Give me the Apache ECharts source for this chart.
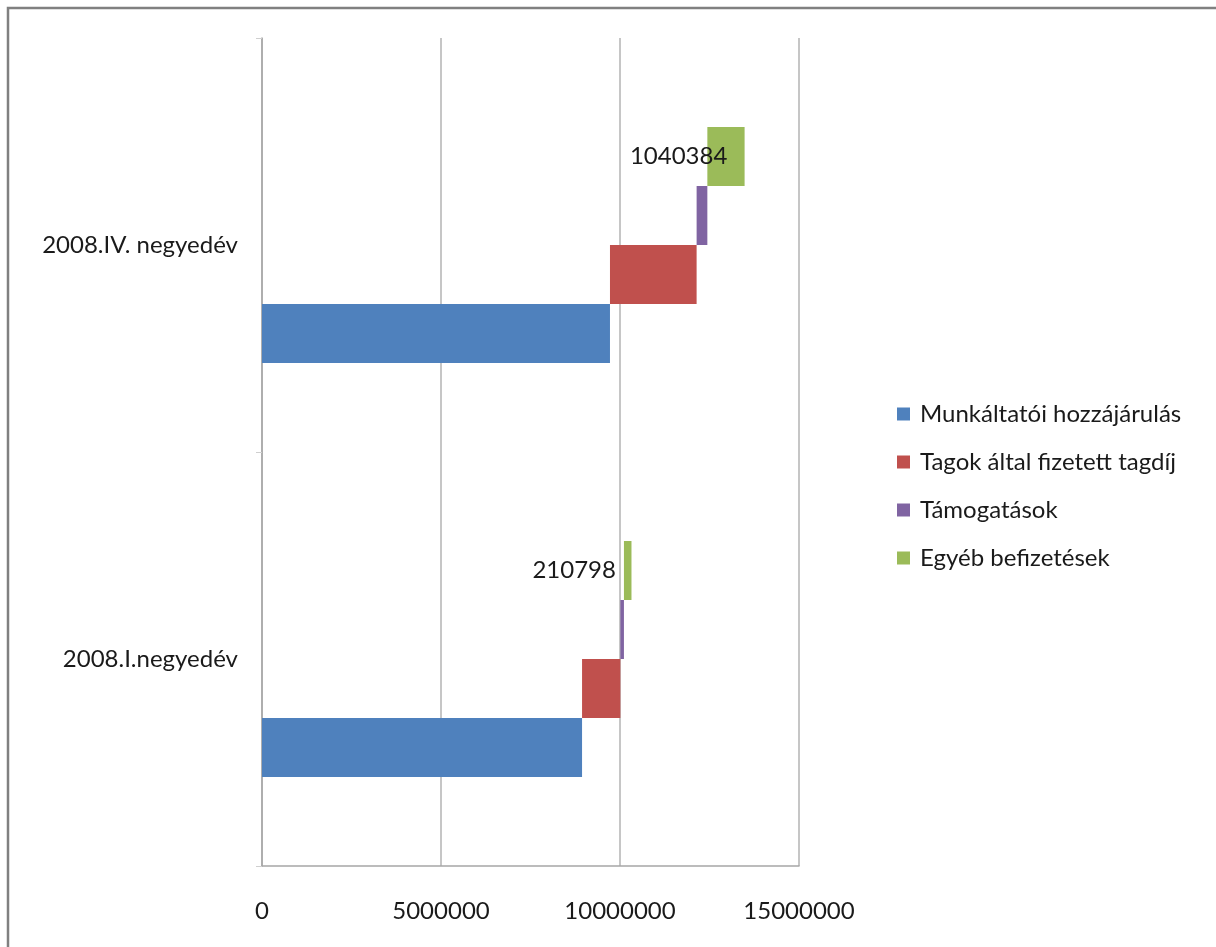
<!DOCTYPE html>
<html lang="hu" style="height: 100%">
<head>
  <meta charset="utf-8">
</head>
<body style="height: 100%; margin: 0; background: #fff">
  <div id="container" style="height: 100%"></div>

  <script type="text/javascript" src="https://fastly.jsdelivr.net/npm/echarts@6/dist/echarts.min.js"></script>
  <script type="text/javascript">
    var dom = document.getElementById('container');
    var myChart = echarts.init(dom, null, { renderer: 'canvas' });

// adatok (alulrol felfele a kategoriak)
var categories = ['2008.I.negyedév', '2008.IV. negyedév'];
var munkaltatoi = [8940000, 9720000];
var tagdij = [1070000, 2420000];
var tamogatas = [100000, 300000];
var egyeb = [210798, 1040384];
var names = ['Munkáltatói hozzájárulás', 'Tagok által fizetett tagdíj', 'Támogatások', 'Egyéb befizetések'];
var xMax = 15000000;
var xInterval = 5000000;

// lepcsos elrendezeshez: az egyes sorozatok kezdopontja
var base1 = munkaltatoi.map(function (v) { return v; });
var base2 = base1.map(function (v, i) { return v + tagdij[i]; });
var base3 = base2.map(function (v, i) { return v + tamogatas[i]; });

var font = 'Lato, "Liberation Sans", sans-serif';
var txt = '#1a1a1a';
var fs = 24;
var bw = 59;

function helper(stack, data) {
    return {
        name: '_' + stack,
        type: 'bar',
        stack: stack,
        silent: true,
        barWidth: bw,
        barGap: '0%',
        itemStyle: { color: 'transparent' },
        data: data
    };
}

var option = {
    backgroundColor: '#ffffff',
    animation: false,
    textStyle: { fontFamily: font },
    grid: {
        left: 262,
        right: 417,
        top: 38,
        bottom: 81
    },
    legend: {
        data: names,
        orient: 'vertical',
        left: 892,
        top: 397,
        icon: 'rect',
        itemWidth: 13,
        itemHeight: 13,
        itemGap: 24,
        textStyle: { fontSize: fs, lineHeight: 24, color: txt, fontFamily: font, padding: [0, 0, 0, 5] }
    },
    graphic: [{
        type: 'rect',
        shape: { x: 8, y: 8, width: 1300, height: 1000 },
        style: { fill: 'none', stroke: '#808080', lineWidth: 2.5 },
        silent: true
    }],
    xAxis: {
        type: 'value',
        min: 0,
        max: xMax,
        interval: xInterval,
        axisLine: { show: true, lineStyle: { color: '#a6a6a6', width: 1.5 } },
        axisTick: { show: false },
        splitLine: { show: true, lineStyle: { color: '#b3b3b3', width: 1.5 } },
        axisLabel: {
            margin: 33, fontSize: fs, color: txt, fontFamily: font,
            formatter: function (v) { return String(v); }
        }
    },
    yAxis: {
        type: 'category',
        data: categories,
        axisLine: { show: true, lineStyle: { color: '#a6a6a6', width: 1.5 } },
        axisTick: { show: true, length: 6, lineStyle: { color: '#cfcfcf' } },
        axisLabel: { margin: 24, fontSize: fs, color: txt, fontFamily: font }
    },
    // elso sorozat kerul felulre, ezert forditott sorrend
    series: [
        helper('s3', base3),
        {
            name: names[3],
            type: 'bar',
            stack: 's3',
            barWidth: bw,
            barGap: '0%',
            itemStyle: { color: '#9BBB59' },
            label: {
                show: true,
                position: 'left',
                distance: 5,
                fontSize: fs,
                color: txt,
                fontFamily: font
            },
            data: egyeb.map(function (v, i) {
                return { value: v, label: { offset: [i === 0 ? -3 : 25, 0] } };
            })
        },
        helper('s2', base2),
        {
            name: names[2],
            type: 'bar',
            stack: 's2',
            barWidth: bw,
            barGap: '0%',
            itemStyle: { color: '#8064A2' },
            data: tamogatas
        },
        helper('s1', base1),
        {
            name: names[1],
            type: 'bar',
            stack: 's1',
            barWidth: bw,
            barGap: '0%',
            itemStyle: { color: '#C0504D' },
            data: tagdij
        },
        {
            name: names[0],
            type: 'bar',
            stack: 's0',
            barWidth: bw,
            barGap: '0%',
            itemStyle: { color: '#4F81BD' },
            data: munkaltatoi
        }
    ]
};

    if (option && typeof option === 'object') {
      myChart.setOption(option);
    }

    window.addEventListener('resize', myChart.resize);
  </script>
</body>
</html>
